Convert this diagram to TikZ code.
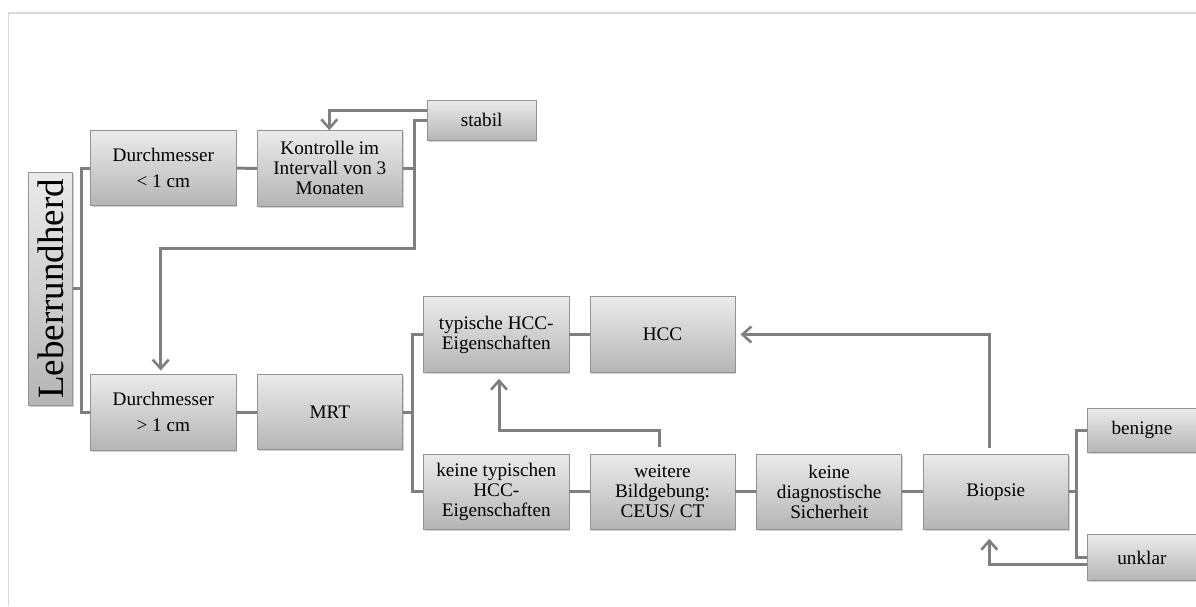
\documentclass[tikz,border=0pt]{standalone}
\usepackage{fontspec}
\setmainfont{Liberation Serif}
\usepackage{graphicx}
\usetikzlibrary{arrows.meta,shadows}
\definecolor{boxtop}{HTML}{EBEBEB}
\definecolor{boxbot}{HTML}{B5B5B5}
\definecolor{boxborder}{HTML}{939393}
\definecolor{conncol}{HTML}{7F7F7F}
\definecolor{framecol}{HTML}{D9D9D9}
\begin{document}
\begin{tikzpicture}[x=1pt,y=-1pt,
  box/.style={draw=boxborder, line width=0.9pt, top color=boxtop, bottom color=boxbot,
    drop shadow={shadow xshift=1.2pt, shadow yshift=-1.6pt, opacity=0.35},
    inner sep=1pt, align=center, text=black,
    font=\fontsize{19.2}{20}\selectfont},
  conn/.style={draw=conncol, line width=3pt},
  arr/.style={conn, -{Straight Barb[length=9pt,width=16pt,line width=2.6pt]}}
]
\useasboundingbox (0,0) rectangle (1196,606);
% frame of the picture
\draw[framecol, line width=1.6pt] (8.3,606) -- (8.3,12.7) -- (1196,12.7);

% nodes
\node[box, minimum width=44, minimum height=232.3, inner sep=0pt] (L) at (50.7,288.8)
  {\fontsize{37}{37}\selectfont\rotatebox{90}{Leberrundherd}};
\node[box, minimum width=145.3, minimum height=75] (d1) at (163.3,168.2) {Durchmesser\\[6pt]< 1 cm};
\node[box, minimum width=145, minimum height=75.3] (kon) at (329.8,168.3) {Kontrolle im\\Intervall von 3\\Monaten};
\node[box, minimum width=108.7, minimum height=40] (stab) at (481.7,120) {stabil};
\node[box, minimum width=145.3, minimum height=76] (d2) at (163.3,412) {Durchmesser\\[6pt]> 1 cm};
\node[box, minimum width=145, minimum height=75.3] (mrt) at (329.8,412) {MRT};
\node[box, minimum width=145.3, minimum height=75.6] (typ) at (496.3,334.5) {typische HCC-\\Eigenschaften};
\node[box, minimum width=145, minimum height=75.6] (hcc) at (662.5,334.5) {HCC};
\node[box, minimum width=145.3, minimum height=75.3] (ktyp) at (496.3,491.7) {keine typischen\\HCC-\\Eigenschaften};
\node[box, minimum width=145, minimum height=75.3] (weit) at (662.5,491.7) {weitere\\Bildgebung:\\CEUS/ CT};
\node[box, minimum width=145, minimum height=75.3] (kdiag) at (829.2,491.7) {keine\\diagnostische\\Sicherheit};
\node[box, minimum width=145, minimum height=75.3] (bio) at (995.8,491.7) {Biopsie};
\node[box, minimum width=108.7, minimum height=44] (ben) at (1141.9,430.3) {benigne};
\node[box, minimum width=108.7, minimum height=46] (unk) at (1141.9,557.5) {unklar};

% helper coordinates
\coordinate (t1) at (81.3,288.8);
\coordinate (v1) at (414,248);
\coordinate (c1) at (499,430.7);

% connectors
\draw[conn] (L.east) -- (t1);
\draw[conn] (d1.west) -| (t1) |- (d2.west);
\draw[conn] (d1.east) -- (kon.west);
\draw[conn] (kon.east) -- (414,168.3);
\draw[arr] ([yshift=9.3pt]stab.west) -| ([xshift=-0.5pt]kon.north);
\draw[arr] (stab.west) -| (v1) -| ([xshift=-2.6pt,yshift=3pt]d2.north);
\draw[conn] (d2.east) -- (mrt.west);
\draw[conn] (mrt.east) -- ++(10.4,0);
\draw[conn] (typ.west) -- ++(-11,0) |- (ktyp.west);
\draw[conn] (typ.east) -- (hcc.west);
\draw[conn] (ktyp.east) -- (weit.west);
\draw[conn] (weit.east) -- (kdiag.west);
\draw[conn] (kdiag.east) -- (bio.west);
\draw[arr] ([xshift=-3.2pt,yshift=7pt]weit.north) |- (c1) -- ([xshift=2.7pt,yshift=-6pt]typ.south);
\draw[arr] ([xshift=-6.5pt,yshift=6pt]bio.north) |- ([xshift=5pt]hcc.east);
\draw[conn] (bio.east) -- ++(9.4,0);
\draw[conn] (ben.west) -- ++(-10.4,0) |- (unk.west);
\draw[arr] ([yshift=-6.8pt]unk.west) -| ([xshift=-6.5pt,yshift=-9pt]bio.south);
\end{tikzpicture}
\end{document}
